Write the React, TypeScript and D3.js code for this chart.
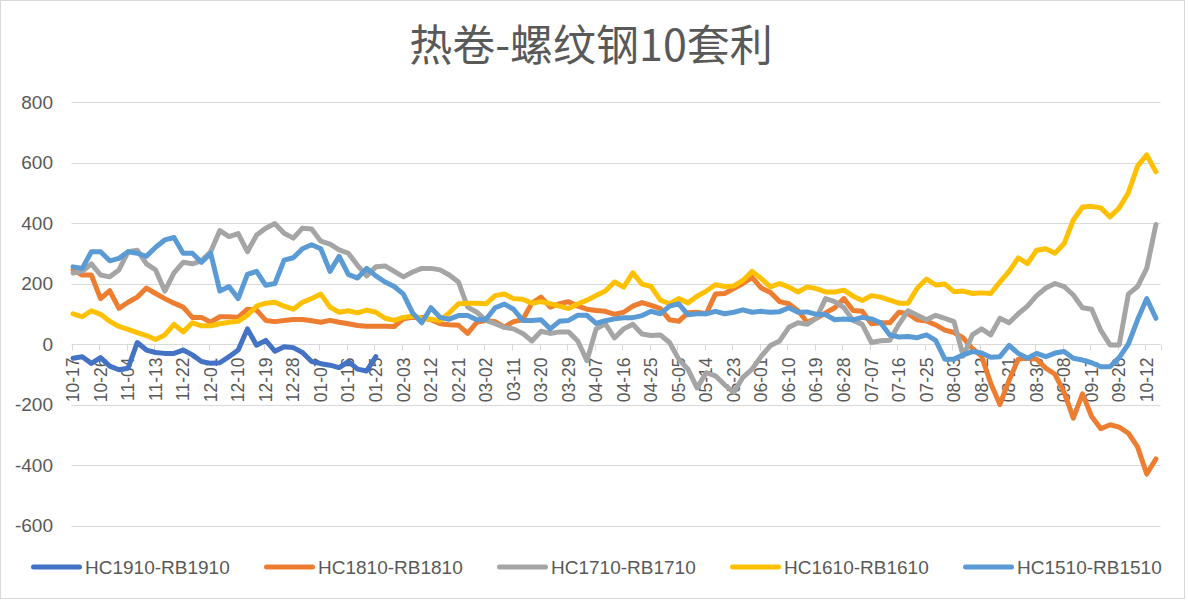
import { useEffect, useRef } from 'react';
import * as d3 from 'd3';

// every 9th category is labelled on the axis
const tickLabels = [
  '10-17', '10-26', '11-04', '11-13', '11-22', '12-01', '12-10', '12-19', '12-28', '01-07',
  '01-16', '01-25', '02-03', '02-12', '02-21', '03-02', '03-11', '03-20', '03-29', '04-07',
  '04-16', '04-25', '05-05', '05-14', '05-23', '06-01', '06-10', '06-19', '06-28', '07-07',
  '07-16', '07-25', '08-03', '08-12', '08-21', '08-30', '09-08', '09-17', '09-26', '10-12',
];

const seriesNames = ['HC1910-RB1910', 'HC1810-RB1810', 'HC1710-RB1710', 'HC1610-RB1610', 'HC1510-RB1510'];
const seriesColors = ['#4472C4', '#ED7D31', '#A5A5A5', '#FFC000', '#5B9BD5'];

// values read every 3rd trading day
const hc1910 = [
  -47, -42, -64, -45, -73, -85, -80, 5, -20, -28, -31, -31, -20, -36, -58, -64, -62, -42, -20, 50,
  -4, 12, -24, -9, -12, -28, -58, -65, -70, -78, -58, -83, -89, -42,
];

const hc1810 = [
  245, 228, 228, 150, 176, 118, 138, 155, 185, 167, 150, 135, 122, 88, 88, 72, 90, 90, 88, 115,
  112, 78, 74, 78, 81, 81, 77, 72, 78, 72, 67, 61, 59, 59, 59, 58, 83, 88, 88, 80,
  67, 64, 62, 35, 72, 78, 74, 56, 74, 80, 135, 155, 122, 133, 140, 125, 115, 111, 108, 98,
  105, 125, 137, 128, 117, 80, 75, 103, 105, 100, 165, 167, 183, 200, 220, 185, 170, 140, 133, 110,
  72, 85, 103, 120, 150, 111, 108, 67, 70, 70, 105, 100, 80, 76, 63, 46, 38, 20, -15, -40,
  -130, -200, -120, -50, -47, -50, -80, -100, -160, -245, -165, -240, -280, -267, -275, -295, -340, -430, -380,
];

const hc1710 = [
  235, 240, 265, 228, 222, 245, 305, 310, 265, 245, 175, 235, 270, 265, 275, 305, 375, 355, 365, 305,
  360, 383, 398, 366, 350, 383, 380, 340, 330, 311, 300, 260, 225, 255, 258, 240, 222, 238, 250, 250,
  245, 228, 205, 122, 105, 78, 67, 55, 50, 35, 10, 42, 35, 40, 40, 10, -55, 50, 67, 20,
  50, 65, 33, 28, 30, 5, -50, -83, -145, -95, -105, -135, -160, -110, -83, -40, -5, 10, 55, 70,
  65, 85, 150, 140, 120, 78, 65, 5, 11, 12, 65, 110, 95, 80, 95, 85, 74, -40, 30, 50,
  30, 85, 70, 100, 125, 160, 185, 200, 190, 162, 120, 115, 45, -3, -3, 165, 190, 250, 395,
];

const hc1610 = [
  100, 90, 110, 98, 75, 58, 48, 38, 28, 15, 30, 65, 40, 70, 60, 60, 67, 72, 75, 95,
  125, 135, 138, 125, 115, 138, 150, 165, 122, 105, 110, 103, 112, 105, 85, 78, 88, 92, 85, 82,
  78, 103, 133, 135, 135, 133, 160, 165, 150, 148, 135, 140, 133, 125, 117, 132, 145, 160, 175, 205,
  188, 235, 198, 190, 145, 133, 150, 136, 158, 175, 196, 190, 192, 210, 240, 216, 189, 200, 188, 172,
  189, 183, 172, 172, 178, 158, 144, 160, 155, 145, 135, 135, 185, 215, 195, 198, 173, 175, 167, 169,
  167, 205, 240, 285, 266, 310, 315, 300, 332, 410, 453, 455, 450, 420, 450, 500, 588, 625, 569,
];

const hc1510 = [
  255, 250, 305, 305, 275, 283, 305, 300, 290, 320, 344, 352, 300, 300, 270, 300, 175, 190, 150, 230,
  240, 194, 200, 277, 285, 315, 328, 315, 240, 290, 230, 218, 250, 225, 205, 190, 165, 103, 70, 120,
  88, 82, 94, 94, 80, 82, 120, 132, 115, 78, 78, 80, 50, 75, 78, 95, 95, 68, 77, 83,
  87, 87, 94, 108, 100, 125, 133, 97, 100, 100, 108, 100, 105, 113, 105, 108, 105, 107, 120, 105,
  106, 98, 97, 80, 83, 80, 88, 83, 70, 30, 23, 25, 21, 30, 12, -50, -50, -36, -25, -30,
  -44, -42, -5, -31, -47, -31, -42, -30, -25, -47, -53, -62, -75, -75, -45, 0, 80, 150, 85,
];

const seriesValues = [hc1910, hc1810, hc1710, hc1610, hc1510];
const yTicks = [-600, -400, -200, 0, 200, 400, 600, 800];

const TOTAL_CATEGORIES = 356;
const SAMPLE_STEP = 3;
const LABEL_STEP = 9;

const App = () => {
  const svgRef = useRef<SVGSVGElement>(null);

  useEffect(() => {
    if (!svgRef.current) return;
    d3.select(svgRef.current).selectAll('*').remove();

    const width = 1188;
    const height = 600;
    const left = 71.5;
    const right = 1160.5;
    const top = 102;
    const bottom = 525.5;
    const textColor = '#595959';
    const gridColor = '#d9d9d9';
    const font = '"Liberation Sans", Arial, sans-serif';

    const svg = d3.select(svgRef.current)
      .attr('width', width)
      .attr('height', height);

    svg.append('rect')
      .attr('x', 0.5).attr('y', 0.5)
      .attr('width', 1184).attr('height', 598)
      .attr('fill', '#fff')
      .attr('stroke', gridColor);

    // Title
    svg.append('text')
      .attr('x', 591)
      .attr('y', 61)
      .attr('text-anchor', 'middle')
      .attr('font-family', '"Noto Sans CJK SC", sans-serif')
      .attr('font-size', 43)
      .attr('fill', textColor)
      .text('热卷-螺纹钢10套利');

    // Scales
    const x = d3.scaleBand<number>()
      .domain(d3.range(TOTAL_CATEGORIES))
      .range([left, right]);

    const y = d3.scaleLinear()
      .domain([-600, 800])
      .range([bottom, top]);

    const cx = (c: number) => (x(c) ?? 0) + x.bandwidth() / 2;

    // Gridlines + y labels
    const grid = svg.append('g');
    grid.selectAll('line')
      .data(yTicks)
      .enter()
      .append('line')
      .attr('x1', left)
      .attr('x2', right)
      .attr('y1', d => Math.round(y(d)) + 0.5)
      .attr('y2', d => Math.round(y(d)) + 0.5)
      .attr('stroke', gridColor)
      .attr('stroke-width', 1);

    grid.selectAll('text')
      .data(yTicks)
      .enter()
      .append('text')
      .attr('x', 53)
      .attr('y', d => y(d))
      .attr('dy', '0.35em')
      .attr('text-anchor', 'end')
      .attr('font-family', font)
      .attr('font-size', 19)
      .attr('fill', textColor)
      .text(d => d);

    // Category axis at 0
    const y0 = Math.round(y(0)) + 0.5;
    const tickCats = d3.range(0, TOTAL_CATEGORIES, LABEL_STEP);
    const axis = svg.append('g');
    axis.selectAll('line')
      .data([...tickCats.map(c => x(c) ?? 0), right])
      .enter()
      .append('line')
      .attr('x1', d => Math.round(d) + 0.5)
      .attr('x2', d => Math.round(d) + 0.5)
      .attr('y1', y0)
      .attr('y2', y0 + 6)
      .attr('stroke', gridColor);

    axis.selectAll('text')
      .data(tickLabels)
      .enter()
      .append('text')
      .attr('transform', (_, i) => `translate(${cx(i * LABEL_STEP)},${y0 + 13}) rotate(-90)`)
      .attr('text-anchor', 'end')
      .attr('dy', '0.35em')
      .attr('font-family', font)
      .attr('font-size', 17.5)
      .attr('fill', textColor)
      .text(d => d);

    // Lines
    const line = d3.line<number>()
      .x((_, i) => cx(i * SAMPLE_STEP))
      .y(d => y(d));

    svg.append('g')
      .selectAll('path')
      .data(seriesValues)
      .enter()
      .append('path')
      .attr('d', d => line(d))
      .attr('fill', 'none')
      .attr('stroke', (_, i) => seriesColors[i])
      .attr('stroke-width', 5)
      .attr('stroke-linejoin', 'round')
      .attr('stroke-linecap', 'round');

    // Legend
    const legend = svg.append('g')
      .selectAll('g')
      .data(seriesNames)
      .enter()
      .append('g')
      .attr('transform', (_, i) => `translate(${31 + i * 233},567)`);

    legend.append('line')
      .attr('x1', 2.5).attr('x2', 48.5)
      .attr('y1', 0).attr('y2', 0)
      .attr('stroke', (_, i) => seriesColors[i])
      .attr('stroke-width', 5)
      .attr('stroke-linecap', 'round');

    legend.append('text')
      .attr('x', 54)
      .attr('dy', '0.35em')
      .attr('font-family', font)
      .attr('font-size', 19)
      .attr('fill', textColor)
      .text(d => d);
  }, []);

  return (
    <svg ref={svgRef} style={{ position: 'absolute', left: 0, top: 0, display: 'block' }} />
  );
};

export default App;
